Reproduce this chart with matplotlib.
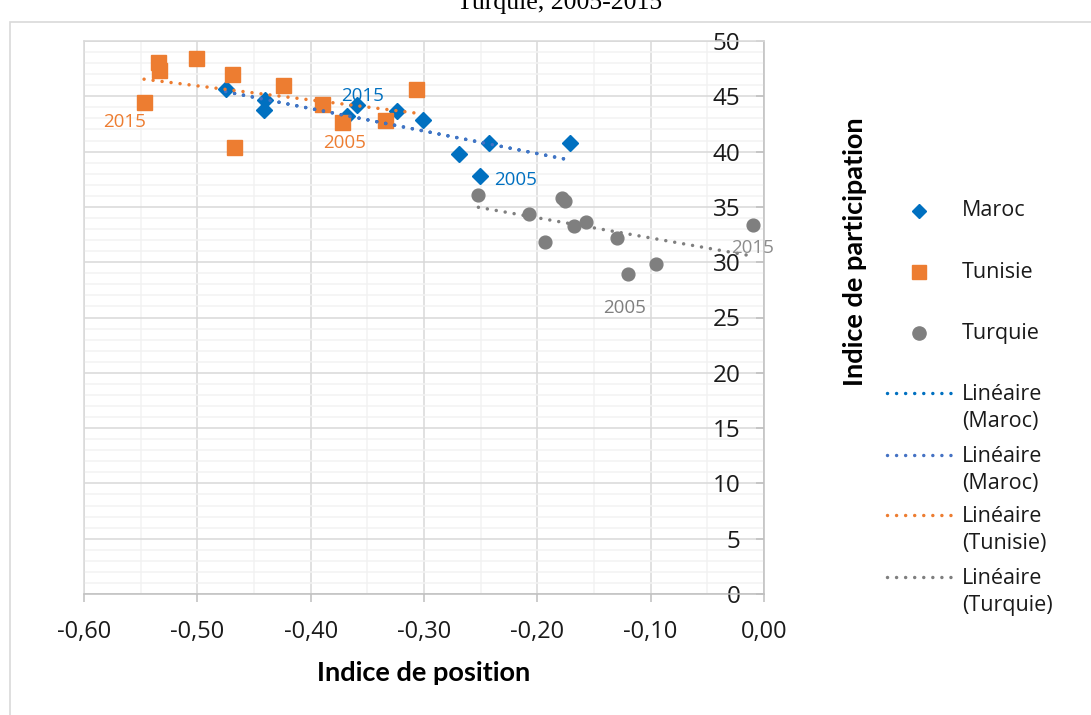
import numpy as np
import matplotlib
matplotlib.use("Agg")
import matplotlib.pyplot as plt
from matplotlib.lines import Line2D
from matplotlib.patches import Rectangle

# données (indice de position, indice de participation)
annees = list(range(2005, 2016))

maroc_x = [-0.251, -0.269, -0.243, -0.171, -0.301, -0.324, -0.368, -0.441, -0.440, -0.475, -0.359]
maroc_y = [37.8, 39.8, 40.8, 40.8, 42.9, 43.7, 43.2, 43.8, 44.7, 45.7, 44.2]

tunisie_x = [-0.372, -0.334, -0.307, -0.390, -0.424, -0.468, -0.469, -0.501, -0.534, -0.535, -0.547]
tunisie_y = [42.7, 42.9, 45.7, 44.3, 46.0, 40.4, 47.0, 48.5, 47.4, 48.1, 44.5]

turquie_x = [-0.120, -0.095, -0.130, -0.157, -0.168, -0.193, -0.207, -0.176, -0.178, -0.252, -0.010]
turquie_y = [28.9, 29.8, 32.2, 33.6, 33.3, 31.8, 34.4, 35.5, 35.8, 36.1, 33.4]

xticks = [-0.6, -0.5, -0.4, -0.3, -0.2, -0.1, 0.0]
xtick_labels = ["-0,60", "-0,50", "-0,40", "-0,30", "-0,20", "-0,10", "0,00"]
yticks = [0, 5, 10, 15, 20, 25, 30, 35, 40, 45, 50]

BLEU = "#0070C0"
BLEU2 = "#4472C4"
ORANGE = "#ED7D31"
GRIS = "#7F7F7F"

W, H = 1091, 715
fig = plt.figure(figsize=(W / 100, H / 100), dpi=100)

def fx(px):
    return px / W

def fy(py):
    return 1 - py / H

# cadre du graphique + titre coupé au-dessus
fig.add_artist(Rectangle((fx(10), -0.1), 1.2, fy(22) + 0.1, fill=False,
                         ec="#D9D9D9", lw=1.2, transform=fig.transFigure))
fig.text(fx(560), fy(9), "Turquie, 2005-2015", ha="center", va="baseline",
         fontsize=18.5, family="Liberation Serif")

ax = fig.add_axes([fx(84), fy(594), 680 / W, 553 / H])
ax.set_xlim(-0.6, 0.0)
ax.set_ylim(0, 50)

ax.set_xticks(xticks)
ax.set_xticklabels(xtick_labels)
ax.set_xticks(np.arange(-0.55, 0, 0.1), minor=True)
ax.set_yticks(yticks)
ax.set_yticks([v for v in range(0, 51) if v % 5], minor=True)

ax.grid(which="major", color="#D9D9D9", lw=1.1, zorder=0)
ax.grid(which="minor", color="#F2F2F2", lw=1.1, zorder=0)
ax.set_axisbelow(True)

for s in ["left", "top"]:
    ax.spines[s].set_color("#D9D9D9")
    ax.spines[s].set_linewidth(1.1)
for s in ["right", "bottom"]:
    ax.spines[s].set_color("#BFBFBF")
    ax.spines[s].set_linewidth(1.1)

ax.tick_params(axis="x", which="major", direction="out", length=6, width=1.1,
               color="#BFBFBF", labelsize=17, pad=13)
ax.tick_params(axis="y", which="major", left=False, labelleft=False, right=True,
               labelright=True, direction="in", length=5.5, width=1.1,
               color="#BFBFBF", labelsize=17.5, pad=-17)
ax.tick_params(which="minor", length=0)
for lab in ax.get_xticklabels() + ax.get_yticklabels():
    lab.set_family("Open Sans")
    lab.set_color("#1A1A1A")
for lab in ax.get_yticklabels():
    lab.set_ha("right")

# points
ax.plot(maroc_x, maroc_y, ls="none", marker="D", ms=8.4, color=BLEU, zorder=3)
ax.plot(tunisie_x, tunisie_y, ls="none", marker="s", ms=10.8, color=ORANGE, zorder=3)
ax.plot(turquie_x, turquie_y, ls="none", marker="o", ms=9.2, color=GRIS, zorder=3)

# courbes de tendance linéaires
dots = (0, (0.01, 2.6))
tendances = [(maroc_x, maroc_y, BLEU), (maroc_x, maroc_y, BLEU2),
             (tunisie_x, tunisie_y, ORANGE), (turquie_x, turquie_y, GRIS)]
for xs, ys, c in tendances:
    a, b = np.polyfit(xs, ys, 1)
    xx = np.array([min(xs), max(xs)])
    ax.plot(xx, a * xx + b, color=c, lw=2.5, ls=dots, dash_capstyle="round", zorder=4)

# étiquettes 2005 / 2015
etiquettes = [
    (maroc_x, maroc_y, 2015, BLEU, (5, 4), "center"),
    (maroc_x, maroc_y, 2005, BLEU, (15, -9), "left"),
    (tunisie_x, tunisie_y, 2015, ORANGE, (-20, -25), "center"),
    (tunisie_x, tunisie_y, 2005, ORANGE, (2, -26), "center"),
    (turquie_x, turquie_y, 2005, GRIS, (-3, -39), "center"),
    (turquie_x, turquie_y, 2015, "#8C8C8C", (0, -28), "center"),
]
for xs, ys, an, c, off, ha in etiquettes:
    i = annees.index(an)
    ax.annotate(str(an), (xs[i], ys[i]), xytext=off, textcoords="offset pixels",
                ha=ha, va="baseline", color=c, fontsize=13.5, family="Open Sans", zorder=5)

# titres des axes
ax.set_xlabel("Indice de position", fontsize=19.5, fontweight="bold", family="Lato")
ax.xaxis.set_label_coords(0.5, (594 - 661) / 553)
ax.xaxis.label.set_va("top")
ax.set_ylabel("Indice de participation", fontsize=19.5, fontweight="bold", family="Lato")
ax.yaxis.set_label_position("right")
ax.yaxis.set_label_coords((855 - 84) / 680, (594 - 252) / 553)
ax.yaxis.label.set_va("center")
ax.yaxis.label.set_ha("center")

# légende
leg_fs = 15.5
marqueurs = [("Maroc", "D", 6.8, BLEU, 211), ("Tunisie", "s", 10.5, ORANGE, 272),
             ("Turquie", "o", 9.5, GRIS, 333)]
for nom, m, ms, c, py in marqueurs:
    fig.add_artist(Line2D([fx(919)], [fy(py)], marker=m, ms=ms, color=c, ls="none",
                          transform=fig.transFigure))
    fig.text(fx(962), fy(py), nom, va="center", ha="left", fontsize=leg_fs,
             family="Open Sans", color="#1A1A1A")

lignes = [("Linéaire\n(Maroc)", BLEU, 393), ("Linéaire\n(Maroc)", BLEU2, 455),
          ("Linéaire\n(Tunisie)", ORANGE, 515), ("Linéaire\n(Turquie)", GRIS, 577)]
for nom, c, py in lignes:
    fig.add_artist(Line2D([fx(887), fx(953)], [fy(py), fy(py)], color=c, lw=2.5, ls=dots,
                          dash_capstyle="round", transform=fig.transFigure))
    fig.text(fx(962), fy(py + 15), nom, va="center", ha="left", fontsize=leg_fs,
             family="Open Sans", color="#1A1A1A", linespacing=1.38)

fig.savefig("out.png", dpi=100)
